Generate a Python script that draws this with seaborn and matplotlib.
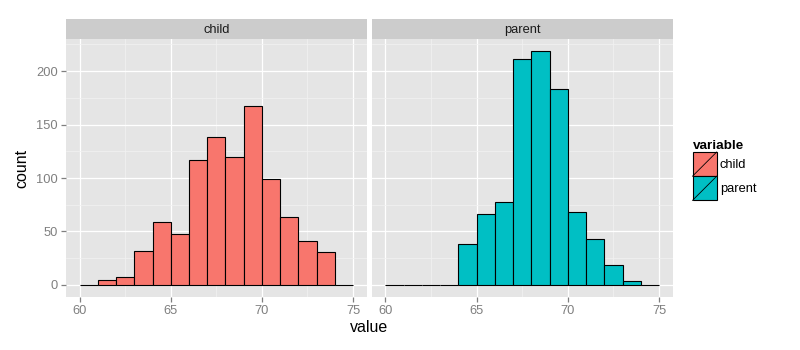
import numpy as np
import pandas as pd
import matplotlib
matplotlib.use("Agg")
import matplotlib.pyplot as plt
import seaborn as sns
from matplotlib.patches import Rectangle
from matplotlib.lines import Line2D
from matplotlib.legend_handler import HandlerPatch

# ---- data ----
bin_starts = [60, 61, 62, 63, 64, 65, 66, 67, 68, 69, 70, 71, 72, 73, 74]
child_counts = [0, 5, 7, 32, 59, 48, 117, 138, 120, 167, 99, 64, 41, 31, 0]
parent_counts = [0, 0, 0, 0, 38, 66, 78, 211, 219, 183, 68, 43, 19, 4, 0]
variables = ["child", "parent"]
colors = {"child": "#F8766D", "parent": "#00BFC4"}
x_ticks = [60, 65, 70, 75]
y_ticks = [0, 50, 100, 150, 200]

rows = []
for var, counts in zip(variables, [child_counts, parent_counts]):
    for b, c in zip(bin_starts, counts):
        rows.append({"variable": var, "value": b + 0.5, "count": c})
df = pd.DataFrame(rows)

plt.rcParams["font.family"] = ["Liberation Sans", "DejaVu Sans"]

W, H = 800, 350
fig = plt.figure(figsize=(W / 100, H / 100), dpi=100)

def fx(px):
    return px / W

def fy(py):
    return 1 - py / H

panel_top, panel_bot = 39, 296.7
strip_top = 19
panels = [(66, 366.7), (371.7, 672.7)]
edges = [float(b) for b in bin_starts] + [float(bin_starts[-1] + 1)]
tick_grey = "#7F7F7F"
ymax = max(max(child_counts), max(parent_counts))

axes = []
for i, (var, (l, r)) in enumerate(zip(variables, panels)):
    ax = fig.add_axes([fx(l), fy(panel_bot), fx(r - l), (panel_bot - panel_top) / H])
    sub = df[df["variable"] == var]
    sns.histplot(data=sub, x="value", weights="count", bins=edges, ax=ax,
                 color=colors[var], alpha=1, edgecolor="black", linewidth=0.8,
                 legend=False)
    ax.set_facecolor("#E5E5E5")
    for s in ax.spines.values():
        s.set_visible(False)
    ax.set_xlim(59.25, 75.75)
    ax.set_ylim(-0.05 * ymax, 1.05 * ymax)
    ax.set_xticks(x_ticks)
    ax.set_xticks([62.5, 67.5, 72.5], minor=True)
    ax.set_yticks(y_ticks)
    ax.set_yticks([25, 75, 125, 175, 225], minor=True)
    ax.grid(which="major", color="white", linewidth=0.9)
    ax.grid(which="minor", color="#F2F2F2", linewidth=0.5)
    ax.set_axisbelow(True)
    ax.tick_params(axis="both", which="major", color=tick_grey, length=3.5, width=0.9,
                   labelcolor=tick_grey, labelsize=9.3, pad=2.5)
    ax.tick_params(axis="both", which="minor", length=0)
    ax.set_xlabel("")
    ax.set_ylabel("")
    if i > 0:
        ax.tick_params(axis="y", which="major", length=0, labelleft=False)
    # strip
    sax = fig.add_axes([fx(l), fy(panel_top), fx(r - l), (panel_top - strip_top) / H])
    sax.set_facecolor("#CCCCCC")
    sax.set_xticks([]); sax.set_yticks([])
    for s in sax.spines.values():
        s.set_visible(False)
    sax.text(0.5, 0.45, var, ha="center", va="center", fontsize=9.3, color="#1A1A1A",
             transform=sax.transAxes)
    axes.append(ax)

fig.text(fx((66 + 672.7) / 2), fy(328), "value", ha="center", va="center", fontsize=11.5)
fig.text(fx(22), fy(168), "count", ha="center", va="center", rotation=90, fontsize=11.5)


class DiagHandler(HandlerPatch):
    def create_artists(self, legend, orig_handle, xdescent, ydescent, width, height,
                       fontsize, trans):
        x0, y0 = -xdescent, -ydescent
        rect = Rectangle((x0, y0), width, height, facecolor=orig_handle.get_facecolor(),
                         edgecolor="black", linewidth=0.8, transform=trans)
        line = Line2D([x0, x0 + width], [y0, y0 + height], color="black", linewidth=0.6,
                      transform=trans)
        return [rect, line]


handles = [Rectangle((0, 0), 1, 1, facecolor=colors[v]) for v in variables]
fs = 9.3
key_px = 24.2
fs_px = fs * 100 / 72
key_fs = key_px / fs_px
hh = (key_fs - 0.245) / 0.65
leg = fig.legend(handles, variables, loc="upper left",
                 bbox_to_anchor=(fx(692.5), fy(140)), frameon=False,
                 title="variable", title_fontproperties={"weight": "bold", "size": 9.7},
                 fontsize=fs, handlelength=key_fs, handleheight=hh,
                 labelspacing=0, handletextpad=0.25, borderpad=0, borderaxespad=0,
                 alignment="left",
                 handler_map={Rectangle: DiagHandler()})

fig.savefig("out.png", dpi=100)
